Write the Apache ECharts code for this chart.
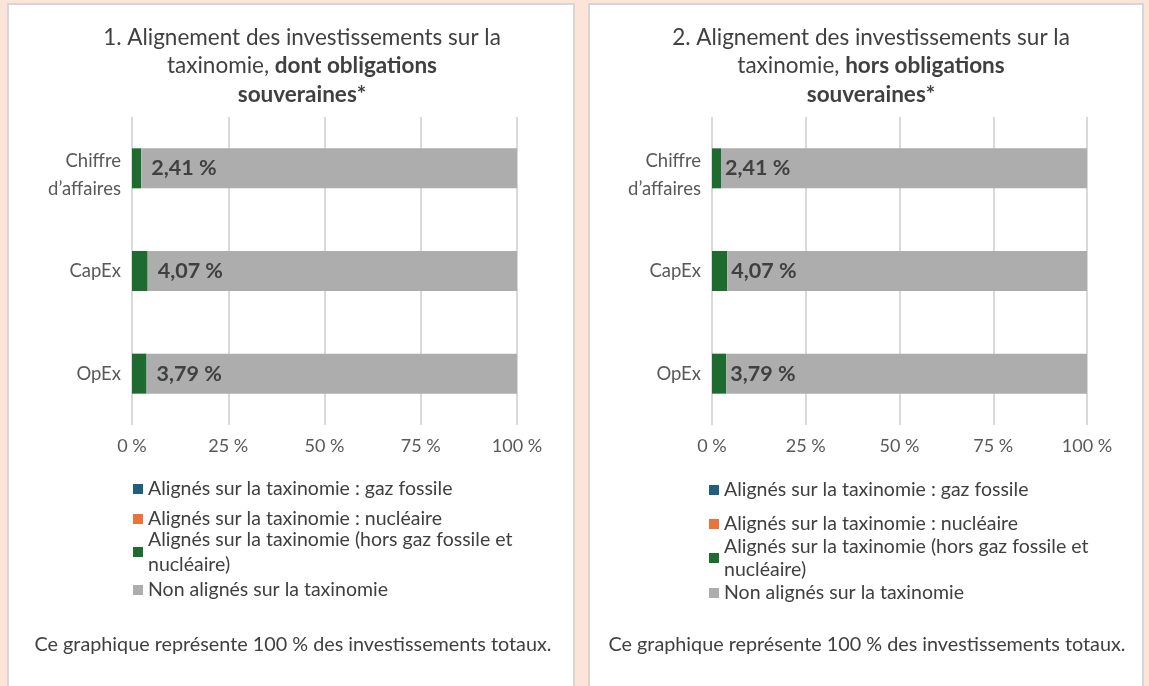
<!DOCTYPE html>
<html>
<head>
<meta charset="utf-8">
<script src="https://cdn.jsdelivr.net/npm/echarts@6/dist/echarts.min.js"></script>
<style>
  html, body { margin: 0; padding: 0; background: #fde4d9; }
  #myChart { width: 1149px; height: 686px; }
</style>
</head>
<body>
<div id="myChart"></div>
<script>
// categories and values
var categories = ['Chiffre\nd’affaires', 'CapEx', 'OpEx'];
var gasValues = [0, 0, 0];
var nuclearValues = [0, 0, 0];
var alignedValues = [2.41, 4.07, 3.79];
var nonAlignedValues = [97.59, 95.93, 96.21];

var seriesNames = [
	'Alignés sur la taxinomie : gaz fossile',
	'Alignés sur la taxinomie : nucléaire',
	'Alignés sur la taxinomie (hors gaz fossile et nucléaire)',
	'Non alignés sur la taxinomie'
];
var colors = ['#1f5f7e', '#e9743a', '#1e6b2f', '#adadad'];

var FONT = 'Lato, "Noto Sans", sans-serif';
var textDark = '#404040';
var textAxis = '#595959';

function fmtPct(v) {
	return v.toFixed(2).replace('.', ',') + ' %';
}

// based on prepared DOM, initialize echarts instance
var myChart = echarts.init(document.getElementById('myChart'));

var panels = [
	{ title: '1. Alignement des investissements sur la', bold: 'dont obligations', cx: 297, left: 132, right: 1149 - 517, labelGap: 10, legendLeft: 128, legendTops: [474, 504, 522, 575], legendLh: [20, 20, 25, 20], footX: 293 },
	{ title: '2. Alignement des investissements sur la', bold: 'hors obligations', cx: 866, left: 712, right: 1149 - 1087, labelGap: 4, legendLeft: 704, legendTops: [475, 509, 530, 578], legendLh: [20, 20, 23, 20], footX: 867 }
];

var option = {
	backgroundColor: '#fde4d9',
	animation: false,
	textStyle: { fontFamily: FONT },
	title: [],
	grid: [],
	xAxis: [],
	yAxis: [],
	legend: [],
	series: [],
	graphic: []
};

// panel boxes
option.graphic.push(
	{ type: 'rect', z: -10, shape: { x: 8, y: 4, width: 566, height: 700 }, style: { fill: '#ffffff', stroke: '#d6d6d6', lineWidth: 2 } },
	{ type: 'rect', z: -10, shape: { x: 589, y: 4, width: 554, height: 700 }, style: { fill: '#ffffff', stroke: '#d6d6d6', lineWidth: 2 } }
);

panels.forEach(function (p, i) {
	option.title.push({
		text: '{n|' + p.title + '}\n{n|taxinomie, }{b|' + p.bold + '}\n{b|souveraines*}',
		left: p.cx,
		top: 18,
		textAlign: 'center',
		textStyle: {
			fontWeight: 'normal',
			rich: {
				n: { fontFamily: FONT, fontSize: 22.5, fontWeight: 'normal', color: textDark, lineHeight: 28.5 },
				b: { fontFamily: FONT, fontSize: 22.5, fontWeight: 'bold', color: textDark, lineHeight: 28.5 }
			}
		}
	});

	option.grid.push({ left: p.left, right: p.right, top: 117, height: 308 });

	option.xAxis.push({
		type: 'value',
		gridIndex: i,
		min: 0,
		max: 100,
		interval: 25,
		axisLine: { show: false },
		axisTick: { show: false },
		splitLine: { lineStyle: { color: '#d9d9d9', width: 2 } },
		axisLabel: {
			margin: 12,
			fontSize: 18,
			color: textAxis,
			fontFamily: FONT,
			formatter: function (v) { return v + ' %'; }
		}
	});

	option.yAxis.push({
		type: 'category',
		gridIndex: i,
		inverse: true,
		data: categories,
		axisLine: { show: false },
		axisTick: { show: false },
		axisLabel: {
			margin: 11,
			color: textAxis,
			fontFamily: FONT,
			align: 'right',
			formatter: function (v) {
				var parts = v.split('\n');
				if (parts.length > 1) {
					return '{p| }\n' + parts.map(function (s) { return '{a|' + s + '}'; }).join('\n');
				}
				return '{a|' + v + '}';
			},
			rich: {
				p: { fontSize: 8, lineHeight: 14 },
				a: { fontFamily: FONT, fontSize: 18.5, lineHeight: 28, color: textAxis }
			}
		}
	});

	var values = [gasValues, nuclearValues, alignedValues, nonAlignedValues];
	seriesNames.forEach(function (name, k) {
		var s = {
			name: name,
			type: 'bar',
			stack: 'total' + i,
			xAxisIndex: i,
			yAxisIndex: i,
			barWidth: 40,
			itemStyle: { color: colors[k] },
			data: values[k]
		};
		if (k === 3) {
			s.label = {
				show: true,
				position: 'insideLeft',
				distance: p.labelGap,
				fontFamily: FONT,
				fontSize: 21.5,
				fontWeight: 'bold',
				color: textDark,
				formatter: function (params) { return fmtPct(alignedValues[params.dataIndex]); }
			};
		}
		option.series.push(s);

		option.legend.push({
			data: [{ name: name, icon: 'rect' }],
			left: p.legendLeft,
			top: p.legendTops[k],
			orient: 'vertical',
			itemWidth: 10,
			itemHeight: 10,
			itemGap: 6,
			selectedMode: false,
			formatter: function (n) {
				return n.replace(' nucléaire)', '\nnucléaire)');
			},
			textStyle: { fontFamily: FONT, fontSize: 19.5, color: textDark, lineHeight: p.legendLh[k] }
		});
	});

	option.graphic.push({
		type: 'text',
		x: p.footX,
		y: 645,
		style: {
			text: 'Ce graphique représente 100 % des investissements totaux.',
			font: '19.8px ' + FONT,
			fill: textDark,
			textAlign: 'center',
			textVerticalAlign: 'middle'
		}
	});
});

// use configuration item and data specified to show chart
myChart.setOption(option);
</script>
</body>
</html>
